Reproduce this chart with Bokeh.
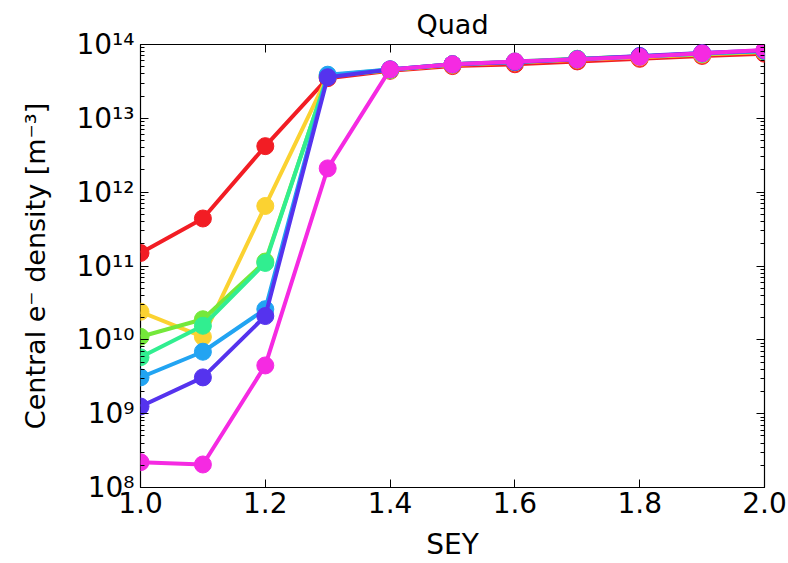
from bokeh.plotting import figure
from bokeh.models import FixedTicker, PrintfTickFormatter, LogAxis, LinearAxis, Range1d
from bokeh.embed import file_html
from bokeh.resources import INLINE

sey = [1.0, 1.1, 1.2, 1.3, 1.4, 1.5, 1.6, 1.7, 1.8, 1.9, 2.0]

red     = [1.5e11, 4.4e11, 4.2e12, 3.5e13, 4.4e13, 5.1e13, 5.4e13, 5.9e13, 6.4e13, 7.0e13, 7.5e13]
yellow  = [2.4e10, 1.1e10, 6.5e11, 3.7e13, 4.5e13, 5.3e13, 5.7e13, 6.2e13, 6.7e13, 7.3e13, 7.9e13]
lime    = [1.1e10, 1.9e10, 1.15e11, 3.7e13, 4.5e13, 5.4e13, 5.8e13, 6.4e13, 6.9e13, 7.5e13, 8.1e13]
spring  = [5.8e9, 1.55e10, 1.1e11, 3.8e13, 4.6e13, 5.4e13, 5.9e13, 6.4e13, 6.9e13, 7.5e13, 8.2e13]
dodger  = [3.1e9, 6.9e9, 2.6e10, 3.9e13, 4.6e13, 5.4e13, 5.8e13, 6.3e13, 6.9e13, 7.6e13, 8.2e13]
violet  = [1.25e9, 3.1e9, 2.1e10, 3.6e13, 4.6e13, 5.4e13, 5.8e13, 6.3e13, 7.0e13, 7.7e13, 8.3e13]
magenta = [2.2e8, 2.05e8, 4.5e9, 2.1e12, 4.6e13, 5.4e13, 5.9e13, 6.3e13, 6.8e13, 7.6e13, 8.4e13]

series = [red, yellow, lime, spring, dodger, violet, magenta]
colors = ["#f21d24", "#fbd231", "#74e83a", "#31ee90", "#22a4f2", "#5533ee", "#f52ae2"]

x_ticks = [1.0, 1.2, 1.4, 1.6, 1.8, 2.0]
y_ticks = [1e8, 1e9, 1e10, 1e11, 1e12, 1e13, 1e14]
y_labels = ["10⁸", "10⁹", "10¹⁰", "10¹¹", "10¹²", "10¹³", "10¹⁴"]
minor_y = [m * 10**e for e in range(8, 14) for m in range(2, 10)]

FONT = "DejaVu Sans"
FS = "28px"

p = figure(width=788, height=563, y_axis_type="log",
           x_range=Range1d(1.0, 2.0), y_range=Range1d(1e8, 1e14),
           output_backend="svg", toolbar_location=None,
           title="Quad",
           min_border_left=140, min_border_right=24,
           min_border_top=44, min_border_bottom=74)

p.title.align = "center"
p.title.text_font = FONT
p.title.text_font_size = "27px"
p.title.text_font_style = "normal"
p.title.text_color = "black"
p.title.offset = 0

p.xgrid.visible = False
p.ygrid.visible = False
p.outline_line_color = "black"
p.outline_line_width = 1.2
p.background_fill_color = "white"
p.border_fill_color = "white"

for c, s in zip(colors, series):
    p.line(sey, s, line_color=c, line_width=4)
    p.scatter(sey, s, size=17, fill_color=c, line_color=c)

xa = p.xaxis[0]
xa.ticker = FixedTicker(ticks=x_ticks)
xa.formatter = PrintfTickFormatter(format="%.1f")
xa.axis_label = "SEY"
xa.axis_label_text_font = FONT
xa.axis_label_text_font_size = FS
xa.axis_label_text_font_style = "normal"
xa.axis_label_text_color = "black"
xa.major_label_text_font = FONT
xa.major_label_text_font_size = FS
xa.major_label_text_color = "black"
xa.major_tick_in = 8
xa.major_tick_out = 0
xa.minor_tick_line_color = None
xa.axis_line_color = None
xa.major_label_standoff = 4
xa.axis_label_standoff = 12

ya = p.yaxis[0]
ya.ticker = FixedTicker(ticks=y_ticks, minor_ticks=minor_y)
ya.major_label_overrides = {t: l for t, l in zip(y_ticks, y_labels)}
ya.axis_label = "Central e⁻ density [m⁻³]"
ya.axis_label_text_font = FONT
ya.axis_label_text_font_size = "27px"
ya.axis_label_text_font_style = "normal"
ya.axis_label_text_color = "black"
ya.major_label_text_font = FONT
ya.major_label_text_font_size = FS
ya.major_label_text_color = "black"
ya.major_tick_in = 8
ya.major_tick_out = 0
ya.minor_tick_in = 4
ya.minor_tick_out = 0
ya.axis_line_color = None
ya.major_label_standoff = 6
ya.axis_label_standoff = 22

top = LinearAxis(ticker=FixedTicker(ticks=x_ticks), major_label_text_font_size="0px",
                 major_tick_in=8, major_tick_out=0, minor_tick_line_color=None,
                 axis_line_color=None, major_label_text_color=None)
p.add_layout(top, "above")
right = LogAxis(ticker=FixedTicker(ticks=y_ticks, minor_ticks=minor_y),
                major_label_text_font_size="0px",
                major_tick_in=8, major_tick_out=0, minor_tick_in=4, minor_tick_out=0,
                axis_line_color=None, major_label_text_color=None)
p.add_layout(right, "right")

open("out.html", "w").write(file_html(p, INLINE))
